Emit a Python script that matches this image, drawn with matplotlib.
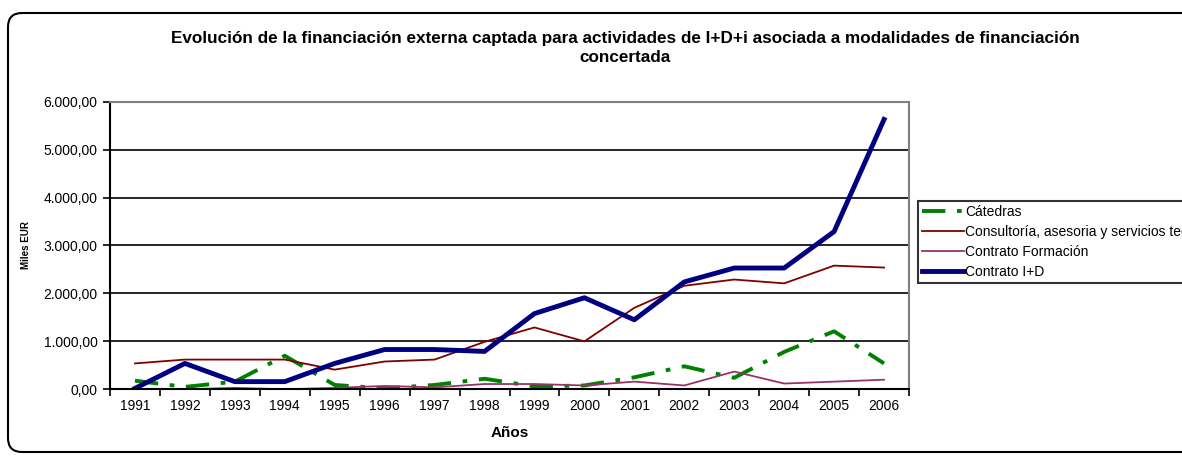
import matplotlib.pyplot as plt
import matplotlib.patches as mpatches
from matplotlib.ticker import FuncFormatter, FixedLocator

plt.rcParams['font.family'] = ['Liberation Sans', 'DejaVu Sans']

years = [str(y) for y in range(1991, 2007)]

catedras = [180, 50, 160, 700, 90, 20, 90, 220, 60, 80, 250, 480, 240, 780, 1210, 540]
consultoria = [540, 620, 620, 620, 410, 580, 620, 990, 1290, 1000, 1700, 2160, 2290, 2210, 2580, 2540]
formacion = [0, 0, 30, 0, 30, 70, 40, 110, 110, 80, 160, 80, 370, 120, 160, 200]
contrato_id = [20, 540, 160, 160, 540, 830, 830, 790, 1580, 1910, 1450, 2240, 2530, 2530, 3290, 5630]

W, H = 1182, 457
fig = plt.figure(figsize=(W / 100, H / 100), dpi=100)

# cadre arrondi extérieur (coupé à droite comme dans l'original)
frame = mpatches.FancyBboxPatch((0.08, 0.05), 13.0, 4.39,
                                boxstyle="round,pad=0,rounding_size=0.14",
                                transform=fig.dpi_scale_trans, facecolor='none',
                                edgecolor='black', linewidth=1.5, clip_on=False)
fig.patches.append(frame)

ax = fig.add_axes([110 / W, 1 - 389.3 / H, (909 - 110) / W, (389.3 - 101.7) / H])
x = list(range(len(years)))

ax.plot(x, catedras, color='#008000', lw=2.8, ls=(0, (6, 3, 1.2, 3)), label='Cátedras')
ax.plot(x, consultoria, color='#800000', lw=1.3, label='Consultoría, asesoria y servicios tec.')
ax.plot(x, formacion, color='#993366', lw=1.3, label='Contrato Formación')
ax.plot(x, contrato_id, color='#000080', lw=3.5, label='Contrato I+D')

ax.set_xlim(-0.5, len(years) - 0.5)
ax.set_ylim(0, 6000)
ax.set_yticks(range(0, 6001, 1000))
ax.yaxis.set_major_formatter(FuncFormatter(
    lambda v, p: f"{v:,.2f}".replace(',', 'X').replace('.', ',').replace('X', '.')))
ax.grid(axis='y', color='black', lw=1.2)
ax.set_axisbelow(True)

ax.set_xticks(x)
ax.set_xticklabels(years)
ax.xaxis.set_minor_locator(FixedLocator([i - 0.5 for i in range(len(years) + 1)]))
ax.tick_params(axis='x', which='major', length=0, labelsize=10, pad=7)
ax.tick_params(axis='x', which='minor', length=5, width=1.2, direction='out')
ax.tick_params(axis='y', length=5, width=1.2, direction='out', labelsize=10, pad=4)

for side in ('left', 'bottom'):
    ax.spines[side].set_color('black')
    ax.spines[side].set_linewidth(1.5)
for side in ('top', 'right'):
    ax.spines[side].set_color('#808080')
    ax.spines[side].set_linewidth(1.5)

ax.set_xlabel('Años', fontsize=11, fontweight='bold', labelpad=9)
ax.set_ylabel('Miles EUR', fontsize=7, fontweight='bold', labelpad=9)

fig.text(625 / W, 1 - 39 / H,
         'Evolución de la financiación externa captada para actividades de I+D+i asociada a modalidades de financiación',
         ha='center', va='center', fontsize=12.3, fontweight='bold')
fig.text(625 / W, 1 - 58 / H, 'concertada', ha='center', va='center',
         fontsize=12.3, fontweight='bold')

leg = fig.legend(loc='upper left', bbox_to_anchor=(918 / W, 1 - 201 / H),
                 fontsize=10, frameon=True, fancybox=False, edgecolor='black',
                 handlelength=3.0, handletextpad=0.1, borderpad=0.3,
                 labelspacing=0.42, borderaxespad=0)
leg.get_frame().set_linewidth(1.5)

fig.savefig('out.png', dpi=100)
